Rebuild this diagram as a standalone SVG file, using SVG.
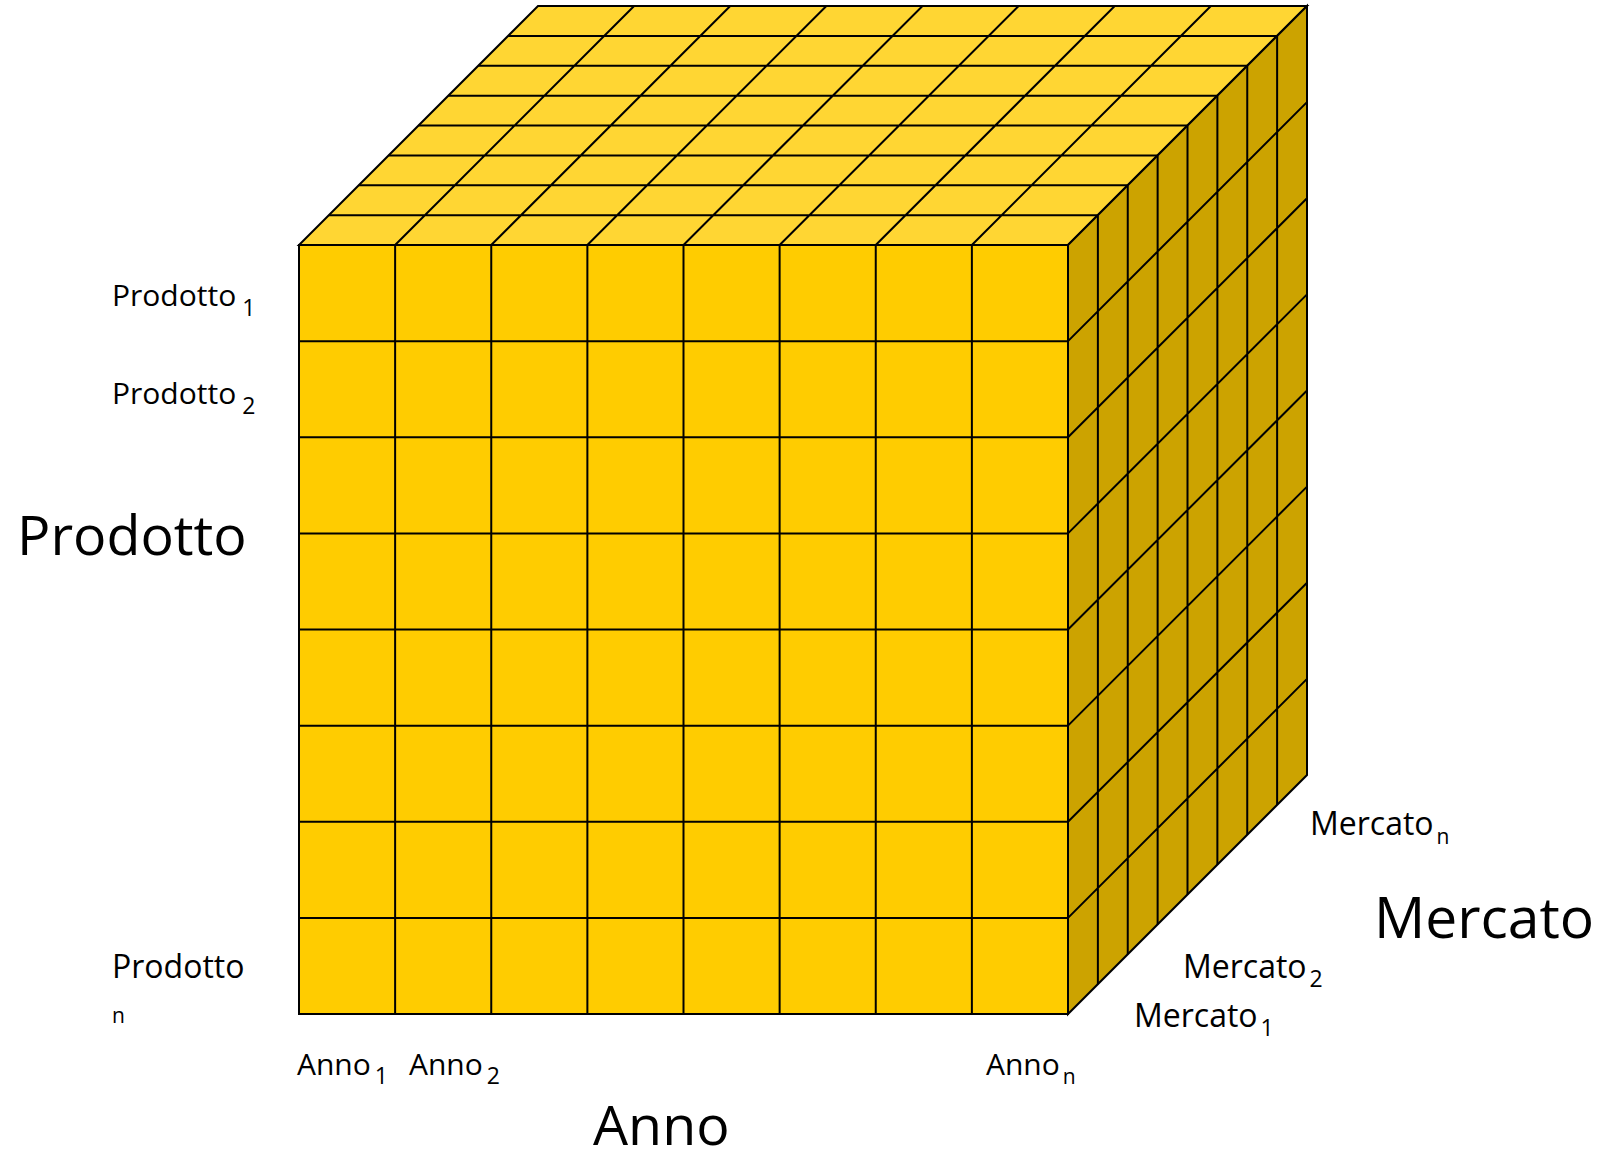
<svg xmlns="http://www.w3.org/2000/svg" width="1604" height="1155" viewBox="0 0 1604 1155">
  <style>
    .ln { fill: none; stroke: #000; stroke-width: 2; stroke-linejoin: miter; }
    .face { stroke: #000; stroke-width: 2; stroke-linejoin: miter; }
    .front { fill: #FFCC00; }
    .top { fill: #FFD633; }
    .side { fill: #CCA300; }
    .lbl { font-family: "Open Sans", "Noto Sans", "DejaVu Sans", sans-serif; font-size: 30px; fill: #000; }
    .mk { font-size: 32px; }
    .big { font-family: "Open Sans", "Noto Sans", "DejaVu Sans", sans-serif; font-size: 55.5px; fill: #000; }
    .sub { font-size: 23px; }
    .subn { font-size: 21px; }
  </style>
  <rect width="1604" height="1155" fill="#ffffff"/>
  <g id="cube">
    <g id="top-face">
      <polygon class="face top" points="299,245 1068,245 1307,6 538,6"/>
      <path class="ln" d="M328.875 215.125H1097.875M358.75 185.25H1127.75M388.625 155.375H1157.625M418.5 125.5H1187.5M448.375 95.625H1217.375M478.25 65.75H1247.25M508.125 35.875H1277.125
        M395.125 245L634.125 6M491.25 245L730.25 6M587.375 245L826.375 6M683.5 245L922.5 6M779.625 245L1018.625 6M875.75 245L1114.75 6M971.875 245L1210.875 6"/>
    </g>
    <g id="side-face">
      <polygon class="face side" points="1068,245 1307,6 1307,775 1068,1014"/>
      <path class="ln" d="M1097.875 215.125V984.125M1127.75 185.25V954.25M1157.625 155.375V924.375M1187.5 125.5V894.5M1217.375 95.625V864.625M1247.25 65.75V834.75M1277.125 35.875V804.875
        M1068 341.125L1307 102.125M1068 437.25L1307 198.25M1068 533.375L1307 294.375M1068 629.5L1307 390.5M1068 725.625L1307 486.625M1068 821.75L1307 582.75M1068 917.875L1307 678.875"/>
    </g>
    <g id="front-face">
      <rect class="face front" x="299" y="245" width="769" height="769"/>
      <path class="ln" d="M395.125 245V1014M491.25 245V1014M587.375 245V1014M683.5 245V1014M779.625 245V1014M875.75 245V1014M971.875 245V1014
        M299 341.125H1068M299 437.25H1068M299 533.375H1068M299 629.5H1068M299 725.625H1068M299 821.75H1068M299 917.875H1068"/>
    </g>
  </g>
  <g id="labels">
    <text class="lbl" x="112" y="306">Prodotto<tspan class="sub" dx="6" dy="10">1</tspan></text>
    <text class="lbl" x="112" y="404">Prodotto<tspan class="sub" dx="6" dy="10">2</tspan></text>
    <text class="lbl" x="112" y="978" style="font-size:32px">Prodotto</text>
    <text class="lbl subn" x="112" y="1023">n</text>
    <text class="big" x="17" y="555">Prodotto</text>
    <text class="lbl" x="297" y="1075">Anno<tspan class="sub" dx="4" dy="9">1</tspan></text>
    <text class="lbl" x="409" y="1075">Anno<tspan class="sub" dx="4" dy="9">2</tspan></text>
    <text class="lbl" x="986" y="1075">Anno<tspan class="subn" dx="3" dy="9">n</tspan></text>
    <text class="big" x="593" y="1145">Anno</text>
    <text class="lbl mk" x="1310" y="835">Mercato<tspan class="subn" dx="3" dy="9">n</tspan></text>
    <text class="lbl mk" x="1183" y="978">Mercato<tspan class="sub" dx="3" dy="9">2</tspan></text>
    <text class="lbl mk" x="1134" y="1027">Mercato<tspan class="sub" dx="3" dy="9">1</tspan></text>
    <text class="big" x="1374" y="938" style="font-size:57px">Mercato</text>
  </g>
</svg>
